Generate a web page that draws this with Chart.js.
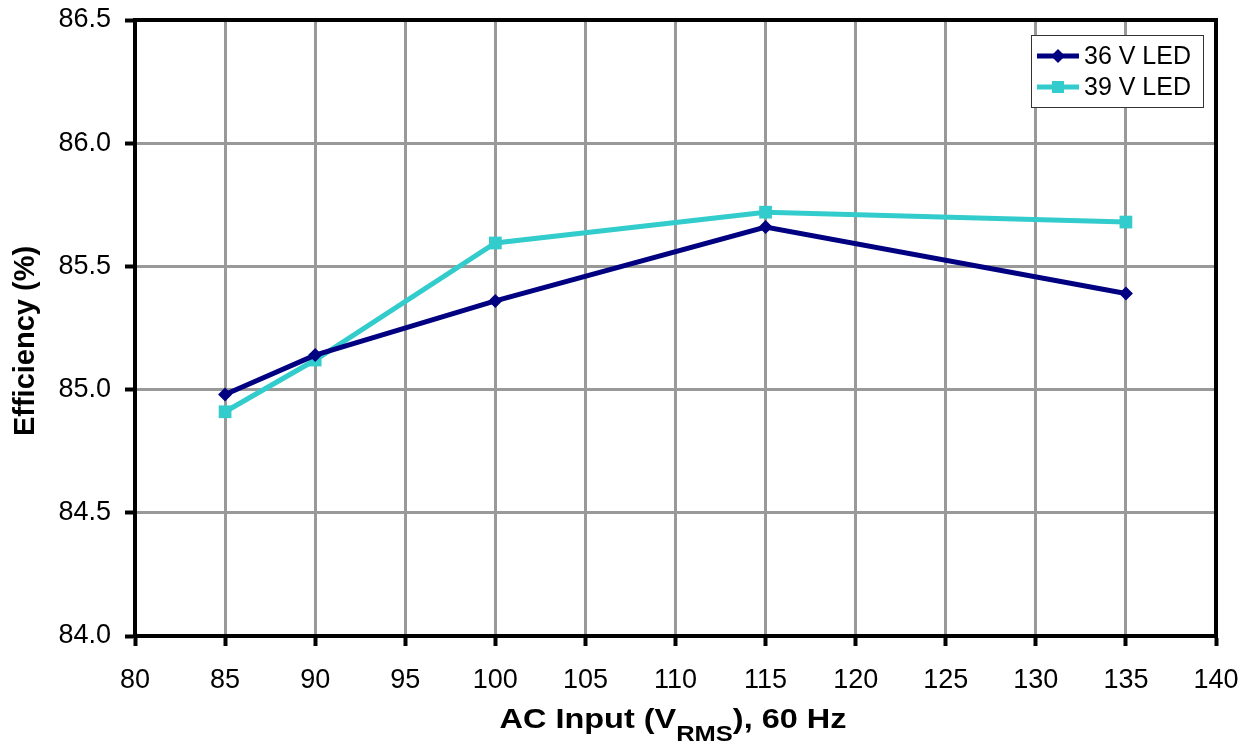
<!DOCTYPE html>
<html>
<head>
<meta charset="utf-8">
<script src="https://cdn.jsdelivr.net/npm/chart.js@4"></script>
<style>
  html, body { margin: 0; padding: 0; background: #fff; }
  #wrap { width: 1251px; height: 746px; }
</style>
</head>
<body>
<div id="wrap"><canvas id="chart"></canvas></div>
<script>
// data
var acInput = [85, 90, 100, 115, 135];
var eff36 = [84.98, 85.14, 85.36, 85.66, 85.39];
var eff39 = [84.91, 85.12, 85.595, 85.72, 85.68];
var seriesNames = ['36 V LED', '39 V LED'];
var xTicks = [80, 85, 90, 95, 100, 105, 110, 115, 120, 125, 130, 135, 140];
var yTicks = [84.0, 84.5, 85.0, 85.5, 86.0, 86.5];

var FONT = '"Liberation Sans", Arial, sans-serif';
var NAVY = '#000080';
var CYAN = '#33CCCC';

function pts(xs, ys) {
  return xs.map(function (x, i) { return { x: x, y: ys[i] }; });
}

// frame, axis titles and in-plot legend
var decor = {
  id: 'decor',
  afterDraw: function (chart) {
    var c = chart.ctx, a = chart.chartArea;
    c.save();
    c.strokeStyle = '#000';
    c.lineWidth = 4;
    c.strokeRect(a.left, a.top, a.right - a.left, a.bottom - a.top);

    // y title
    c.fillStyle = '#000';
    c.font = 'bold 29px ' + FONT;
    c.textAlign = 'center';
    c.textBaseline = 'middle';
    c.translate(26, 341);
    c.rotate(-Math.PI / 2);
    c.fillText('Efficiency (%)', 0, 0);
    c.restore();

    // x title with subscript, slightly wide like the original
    c.save();
    c.fillStyle = '#000';
    c.textBaseline = 'alphabetic';
    var base = 728;
    var parts = [
      { t: 'AC Input (V', f: 'bold 28px ' + FONT, dy: 0 },
      { t: 'RMS', f: 'bold 22px ' + FONT, dy: 13 },
      { t: '), 60 Hz', f: 'bold 28px ' + FONT, dy: 0 }
    ];
    var total = 0;
    parts.forEach(function (p) { c.font = p.f; p.w = c.measureText(p.t).width; total += p.w; });
    var sx = 347 / total;
    c.translate(673 - 347 / 2, 0);
    c.scale(sx, 1);
    var x = 0;
    c.textAlign = 'left';
    parts.forEach(function (p) { c.font = p.f; c.fillText(p.t, x, base + p.dy); x += p.w; });
    c.restore();

    // legend
    c.save();
    var lx = 1031, ly = 35, lw = 172, lh = 72;
    c.fillStyle = '#fff';
    c.fillRect(lx, ly, lw, lh);
    c.strokeStyle = '#333';
    c.lineWidth = 1;
    c.strokeRect(lx + 0.5, ly + 0.5, lw, lh);
    chart.data.datasets.forEach(function (ds, i) {
      var cy = ly + 21 + i * 31;
      c.strokeStyle = ds.borderColor;
      c.lineWidth = 5;
      c.beginPath();
      c.moveTo(lx + 6, cy);
      c.lineTo(lx + 48, cy);
      c.stroke();
      c.fillStyle = ds.borderColor;
      var mx = lx + 27;
      if (ds.pointStyle === 'rectRot') {
        c.beginPath();
        c.moveTo(mx, cy - 7); c.lineTo(mx + 7, cy); c.lineTo(mx, cy + 7); c.lineTo(mx - 7, cy);
        c.closePath(); c.fill();
      } else {
        c.fillRect(mx - 6, cy - 6, 12, 12);
      }
      c.fillStyle = '#000';
      c.font = '25px ' + FONT;
      c.textAlign = 'left';
      c.textBaseline = 'middle';
      c.fillText(ds.label, lx + 53, cy + 1);
    });
    c.restore();
  }
};

new Chart(document.getElementById('chart'), {
  type: 'line',
  data: {
    datasets: [{
      label: seriesNames[0],
      data: pts(acInput, eff36),
      borderColor: NAVY,
      backgroundColor: NAVY,
      borderWidth: 5,
      pointStyle: 'rectRot',
      pointRadius: 7,
      pointBorderWidth: 0,
      tension: 0
    }, {
      label: seriesNames[1],
      data: pts(acInput, eff39),
      borderColor: CYAN,
      backgroundColor: CYAN,
      borderWidth: 5,
      pointStyle: 'rect',
      pointRadius: 9,
      pointBorderWidth: 0,
      tension: 0
    }]
  },
  options: {
    responsive: true,
    maintainAspectRatio: false,
    animation: false,
    layout: { padding: { top: 20, right: 35, left: 0, bottom: 0 } },
    plugins: {
      legend: { display: false },
      tooltip: { enabled: false }
    },
    scales: {
      x: {
        type: 'linear',
        min: 80,
        max: 140,
        afterFit: function (s) {
          s.height = 110;
          s.paddingLeft = 0; s.paddingRight = 0;
        },
        afterBuildTicks: function (s) { s.ticks = xTicks.map(function (v) { return { value: v }; }); },
        ticks: {
          color: '#000',
          font: { family: FONT, size: 27 },
          padding: 18,
          maxRotation: 0,
          autoSkip: false
        },
        grid: { color: '#999', lineWidth: 3, tickLength: 10, tickColor: '#000', tickWidth: 4 },
        border: { color: '#000', width: 4 }
      },
      y: {
        type: 'linear',
        min: 84,
        max: 86.5,
        afterFit: function (s) {
          s.width = 135;
          s.paddingTop = 0; s.paddingBottom = 0;
        },
        afterBuildTicks: function (s) { s.ticks = yTicks.map(function (v) { return { value: v }; }); },
        ticks: {
          color: '#000',
          font: { family: FONT, size: 27 },
          padding: 14,
          callback: function (v) { return Number(v).toFixed(1); }
        },
        grid: { color: '#999', lineWidth: 3, tickLength: 10, tickColor: '#000', tickWidth: 4 },
        border: { color: '#000', width: 4 }
      }
    }
  },
  plugins: [decor]
});
</script>
</body>
</html>
